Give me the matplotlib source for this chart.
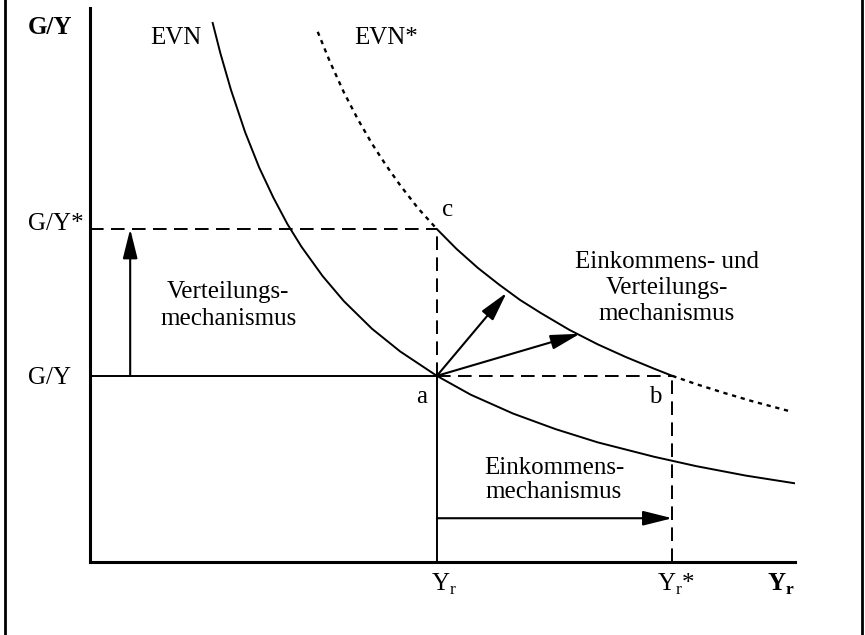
import matplotlib
matplotlib.use("Agg")
import matplotlib.pyplot as plt
from matplotlib.lines import Line2D

plt.rcParams['font.family'] = ['Liberation Serif', 'DejaVu Serif']
plt.rcParams['mathtext.fontset'] = 'custom'
plt.rcParams['mathtext.rm'] = 'Liberation Serif'
plt.rcParams['mathtext.bf'] = 'Liberation Serif:bold'

# Levels (axis runs 0..10 both ways)
yr = 4.92
yr_star = 8.26
gy = 3.36
gy_star = 6.01

# EVN curve
evn_x = [1.74, 1.85, 2.0, 2.2, 2.4, 2.6, 2.8, 3.0, 3.3, 3.6, 4.0, 4.4, 4.92,
         5.4, 6.0, 6.6, 7.2, 8.0, 8.6, 9.3, 10.0]
evn_y = [9.73, 9.18, 8.52, 7.76, 7.12, 6.58, 6.10, 5.69, 5.16, 4.71, 4.21, 3.80, 3.36,
         3.02, 2.68, 2.40, 2.16, 1.90, 1.73, 1.56, 1.42]

# EVN* curve: dotted above c, solid c..b, dotted after b
evn_star_top_x = [3.23, 3.4, 3.6, 3.8, 4.0, 4.2, 4.4, 4.65, 4.92]
evn_star_top_y = [9.57, 9.04, 8.48, 7.99, 7.55, 7.16, 6.80, 6.39, 6.01]
evn_star_mid_x = [4.92, 5.2, 5.5, 5.8, 6.1, 6.4, 6.8, 7.2, 7.6, 8.0, 8.26]
evn_star_mid_y = [6.01, 5.65, 5.31, 5.01, 4.73, 4.49, 4.19, 3.93, 3.70, 3.49, 3.36]
evn_star_end_x = [8.26, 8.6, 9.0, 9.4, 9.93]
evn_star_end_y = [3.36, 3.21, 3.05, 2.90, 2.72]

# arrow tips from point a
arrow_tips = [(5.91, 4.86), (6.95, 4.12)]
arrow_left_x = 0.57
arrow_bottom_y = 0.79

fig = plt.figure(figsize=(8.65, 6.35), dpi=100)
ax = fig.add_axes([90 / 865, 73 / 635, 705 / 865, 554 / 635])
ax.set_xlim(0, 10)
ax.set_ylim(0, 10)
for s in ['top', 'right']:
    ax.spines[s].set_visible(False)
for s in ['left', 'bottom']:
    ax.spines[s].set_linewidth(2.2)
ax.set_xticks([])
ax.set_yticks([])

lw = 1.4
dash = (0, (7, 3.8))
dot = (0, (1.8, 2.0))

# curves
ax.plot(evn_x, evn_y, color='black', lw=lw)
ax.plot(evn_star_top_x, evn_star_top_y, color='black', lw=1.7, linestyle=dot)
ax.plot(evn_star_mid_x, evn_star_mid_y, color='black', lw=lw)
ax.plot(evn_star_end_x, evn_star_end_y, color='black', lw=1.7, linestyle=dot)

# guide lines
ax.plot([0, yr], [gy_star, gy_star], color='black', lw=lw, linestyle=dash)
ax.plot([yr, yr], [gy, gy_star], color='black', lw=lw, linestyle=dash)
ax.plot([0, yr], [gy, gy], color='black', lw=lw)
ax.plot([yr, yr], [0, gy], color='black', lw=lw)
ax.plot([yr, yr_star], [gy, gy], color='black', lw=lw, linestyle=dash)
ax.plot([yr_star, yr_star], [0, gy], color='black', lw=lw, linestyle=dash)

# arrows
aprops = dict(arrowstyle="-|>,head_length=1.0,head_width=0.25", mutation_scale=18,
              lw=1.5, color='black', shrinkA=0, shrinkB=0)
ax.annotate("", xy=(arrow_left_x, gy_star), xytext=(arrow_left_x, gy), arrowprops=aprops)
ax.annotate("", xy=(yr_star, arrow_bottom_y), xytext=(yr, arrow_bottom_y), arrowprops=aprops)
for tip in arrow_tips:
    ax.annotate("", xy=tip, xytext=(yr, gy), arrowprops=aprops)

fs = 18
# labels
ax.text(-0.57, 9.65, "G/Y", fontsize=fs, fontweight='bold', ha='center', va='center', clip_on=False)
ax.text(-0.88, gy_star + 0.1, "G/Y*", fontsize=fs, ha='left', va='center', clip_on=False)
ax.text(-0.88, gy - 0.03, "G/Y", fontsize=fs, ha='left', va='center', clip_on=False)
ax.text(yr + 0.1, -0.4, "Y$_\\mathrm{r}$", fontsize=fs, ha='center', va='center', clip_on=False)
ax.text(yr_star + 0.05, -0.4, "Y$_\\mathrm{r}$*", fontsize=fs, ha='center', va='center', clip_on=False)
ax.text(9.8, -0.4, "Y$_\\mathbf{r}$", fontsize=fs, fontweight='bold', ha='center', va='center', clip_on=False)

ax.text(1.22, 9.46, "EVN", fontsize=fs, ha='center', va='center')
ax.text(4.2, 9.46, "EVN*", fontsize=fs, ha='center', va='center')
ax.text(5.0, 6.35, "c", fontsize=fs, ha='left', va='center')
ax.text(4.71, 2.97, "a", fontsize=fs, ha='center', va='center')
ax.text(8.02, 2.97, "b", fontsize=fs, ha='center', va='center')

ax.text(1.96, 4.63, "Verteilungs-\nmechanismus", fontsize=fs, ha='center', va='center',
        linespacing=1.25)
ax.text(8.18, 4.95, "Einkommens- und\nVerteilungs-\nmechanismus", fontsize=fs,
        ha='center', va='center', linespacing=1.22)
ax.text(6.58, 1.48, "Einkommens-\nmechanismus", fontsize=fs, ha='center', va='center',
        linespacing=1.12)

# frame lines at left and right edges
fig.add_artist(Line2D([5 / 865, 5 / 865], [0, 1], color='black', lw=2))
fig.add_artist(Line2D([862 / 865, 862 / 865], [0, 1], color='black', lw=2))

fig.savefig("out.png", dpi=100, facecolor='white')
